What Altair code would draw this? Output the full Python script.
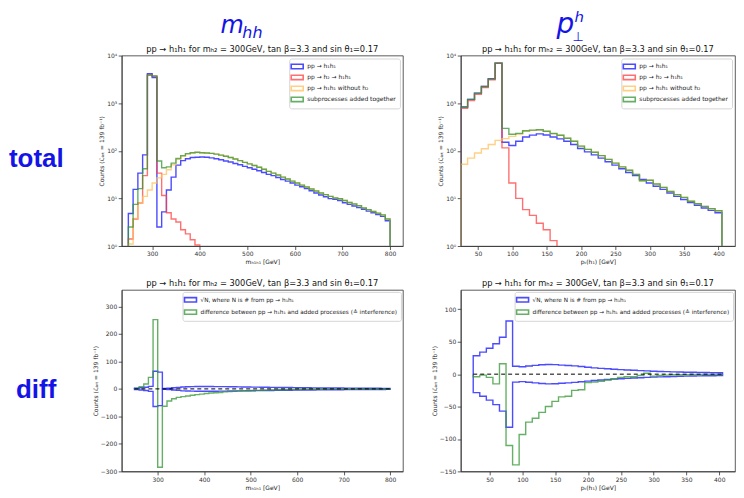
import altair as alt
import pandas as pd

# ---------------- data ----------------
mhh_edges = list(range(250, 810, 10))   # 55 bins, 250..800 GeV
pt_edges = list(range(25, 415, 10))     # 38 bins, 25..405 GeV

# top-left: m_hh, counts (log)
mhh_blue = [4.8, 15.5, 34, 82, 4150, 3450, 2.5, 5.2, 15, 28, 50, 62, 68, 72, 73,
            74, 73, 71, 68, 65, 61, 58, 54, 51, 47, 44, 41, 38, 35, 32, 30, 27.5, 25, 23, 21,
            19, 17.5, 16, 14.5, 13, 11.8, 10.8, 9.9, 9.6, 9, 8.1, 7.5, 6.9, 6.4, 5.9, 5.4, 5.0, 4.6, 4.2, 3.4]
mhh_red = [1.4, 3.7, 8, 30, 3870, 3700, 34, 11.5, 5.0, 3.7, 3.2, 2.2, 1.8, 1.35, 1.05,
           0, 0, 0, 0, 0, 0, 0, 0, 0, 0, 0, 0, 0, 0, 0, 0, 0, 0, 0, 0,
           0, 0, 0, 0, 0, 0, 0, 0, 0, 0, 0, 0, 0, 0, 0, 0, 0, 0, 0, 0]
mhh_orange = [1.1, 3.8, 8, 11, 15, 21, 27, 32, 40, 51, 66, 77, 85, 90, 92,
              91, 90, 88, 85, 81, 77, 72, 67, 62, 57, 53, 49, 45, 41, 37, 34, 31, 28, 25.5, 23,
              21, 19, 17.3, 15.8, 14.3, 13, 12, 11, 10.2, 9.8, 9, 8.2, 7.6, 7.0, 6.3, 5.8, 5.3, 4.9, 4.5, 3.7]
mhh_green = [2.5, 7.5, 16, 42, 3900, 3720, 61, 44, 46, 55, 69, 79, 87, 91, 93,
             91, 90, 88, 85, 81, 77, 72, 67, 62, 57, 53, 49, 45, 41, 37, 34, 31, 28, 25.5, 23,
             21, 19, 17.3, 15.8, 14.3, 13, 12, 11, 10.2, 9.8, 9, 8.2, 7.6, 7.0, 6.3, 5.8, 5.3, 4.9, 4.5, 3.7]

# top-right: pT(h1), counts (log)
pt_blue = [830, 1200, 1620, 2230, 3250, 6900, 151, 129, 158, 195, 213, 226, 215, 195, 178, 158, 135,
           112, 95, 82, 70, 59, 50, 42, 35, 30, 25, 21, 18, 15.5, 13, 11, 9.5, 8.2, 7.2, 6.3, 5.6, 5.0]
pt_red = [780, 1130, 1535, 2135, 3100, 6840, 115, 21, 10, 5.8, 4.4, 3.0, 2.2, 1.3, 0, 0, 0,
          0, 0, 0, 0, 0, 0, 0, 0, 0, 0, 0, 0, 0, 0, 0, 0, 0, 0, 0, 0, 0]
pt_orange = [52, 70, 90, 110, 135, 165, 180, 201, 222, 257, 268, 273, 255, 229, 212, 183, 159,
             125, 107, 93, 79, 66, 55, 46, 39, 32, 23.5, 24, 20, 17, 14, 12, 10.5, 8.7, 7.7, 6.8, 6.1, 5.5]
pt_green = [832, 1200, 1625, 2245, 3235, 7005, 295, 222, 232, 263, 272, 276, 257, 230, 212, 183, 159,
            125, 107, 93, 79, 66, 55, 46, 39, 32, 23.5, 24, 20, 17, 14, 12, 10.5, 8.7, 7.7, 6.8, 6.1, 5.5]

# bottom-left: m_hh differences
mhh_sqrtN = [2.2, 3.9, 5.8, 9.1, 64, 61, 1.6, 2.3, 3.9, 5.3, 7.1, 7.9, 8.2, 8.5, 8.5,
             8.6, 8.5, 8.4, 8.2, 8.1, 7.8, 7.6, 7.3, 7.1, 6.9, 6.6, 6.4, 6.2, 5.9, 5.7, 5.5, 5.2, 5.0, 4.8, 4.6,
             4.4, 4.2, 4.0, 3.8, 3.6, 3.4, 3.3, 3.1, 3.1, 3.0, 2.8, 2.7, 2.6, 2.5, 2.4, 2.3, 2.2, 2.1, 2.0, 1.8]
mhh_diff = [2, 8, 18, 42, 252, -285, -63, -44, -36, -31, -28, -26, -23, -21, -19,
            -17, -15, -14, -13, -11, -10, -9, -8, -7, -6.5, -6, -5.5, -5, -4.5, -4, -3.5, -3, -3, -2.5, -2,
            -2, -1.8, -1.6, -1.4, -1.2, -1.1, -1, -0.9, -0.8, -0.7, -0.6, -0.6, -0.5, -0.5, -0.4, -0.4, -0.3, -0.3, -0.3, -0.2]

# bottom-right: pT differences
pt_sqrtN = [28.5, 34, 40, 47, 57, 82, 12.3, 11.5, 12.5, 13.5, 14.5, 15, 14.7, 14, 13.4, 12.7,
            11.8, 10.7, 9.7, 9, 8.3, 7.6, 7, 6.5, 6, 5.5, 5, 4.5, 4.2, 3.9, 3.6, 3.3, 3.0, 2.9, 2.7, 2.5, 2.4, 2.2]
pt_diff = [-4, -1.5, -5, -15, 16, -110, -140, -93, -74, -68, -59, -50, -42, -35, -34, -25,
           -24, -13, -12, -11, -9, -7, -5, -4, -4, -2, 1.5, -3, -2, -1.5, -1, -1, -1, -0.5, -0.5, -0.5, -0.5, -0.5]

total_labels = ["pp → h₁h₁", "pp → h₂ → h₁h₁", "pp → h₁h₁ without h₂", "subprocesses added together"]
diff_labels = ["√N, where N is # from pp → h₁h₁",
               "difference between pp → h₁h₁ and added processes (≙ interference)"]
total_colors = ["#0f0fff", "#ff4040", "#ffc05c", "#339533"]
diff_colors = ["#0f0fff", "#339533"]

title_text = "pp → h₁h₁ for mₕ₂ = 300GeV, tan β=3.3 and sin θ₁=0.17"
ytitle = "Counts (ℒᵢₙₜ = 139 fb⁻¹)"

FONT = "DejaVu Sans"
LOG_FLOOR = 1e-3
HEAD = "#1414e6"
ALPHA = 0.75


def step_frame(edges, series_list, base):
    rows = []
    for lab, part, vals in series_list:
        assert len(vals) == len(edges) - 1, (lab, len(vals))
        pts = [(edges[0], base)]
        for e, v in zip(edges[:-1], vals):
            pts.append((e, v if v != 0 else base))
        pts.append((edges[-1], vals[-1] if vals[-1] != 0 else base))
        pts.append((edges[-1], base))
        for i, (x, y) in enumerate(pts):
            rows.append({"series": lab, "part": part, "x": x, "y": y, "i": i})
    return pd.DataFrame(rows)


log_labels = ("datum.value >= 10000 ? '10⁴' : datum.value >= 1000 ? '10³' : "
              "datum.value >= 100 ? '10²' : datum.value >= 10 ? '10¹' : '10⁰'")

sym = "M-1.5,-0.55H1.5V0.55H-1.5Z"


def label(text, x, y, size, style="normal", weight="normal", font=FONT, color=HEAD, align="left"):
    return alt.Chart(pd.DataFrame({"t": [text]})).mark_text(
        align=align, baseline="alphabetic", fontSize=size, fontStyle=style,
        fontWeight=weight, font=font, color=color).encode(
        x=alt.value(x), y=alt.value(y), text="t:N")


def ptitle(w):
    return label(title_text, w / 2, -4, 8.3, color="#111", align="center")


def total_panel(edges, blue, red, orange, green, xdom, xticks, xtitle):
    df = step_frame(edges, [(total_labels[0], "a", blue), (total_labels[1], "a", red),
                            (total_labels[2], "a", orange), (total_labels[3], "a", green)],
                    LOG_FLOOR)
    return alt.Chart(df).mark_line(interpolate="step-after", clip=True, strokeWidth=1.4,
                                   opacity=ALPHA).encode(
        x=alt.X("x:Q", scale=alt.Scale(domain=xdom, nice=False, zero=False),
                axis=alt.Axis(values=xticks, title=xtitle)),
        y=alt.Y("y:Q", scale=alt.Scale(type="log", domain=[1, 10000], nice=False),
                axis=alt.Axis(values=[1, 10, 100, 1000, 10000], labelExpr=log_labels, title=ytitle)),
        color=alt.Color("series:N", scale=alt.Scale(domain=total_labels, range=total_colors),
                        legend=alt.Legend(orient="top-right", title=None, symbolType=sym,
                                          symbolSize=64, symbolStrokeWidth=1.6, offset=3,
                                          rowPadding=-1.8, padding=3, labelOffset=5)),
        order=alt.Order("i:Q"),
    )


def diff_panel(edges, sqrtn, diff, xdom, ydom, xticks, yticks, xtitle):
    neg = [-v for v in sqrtn]
    df = step_frame(edges, [(diff_labels[0], "up", sqrtn), (diff_labels[0], "down", neg),
                            (diff_labels[1], "a", diff)], 0)
    xenc = alt.X("x:Q", scale=alt.Scale(domain=xdom, nice=False, zero=False),
                 axis=alt.Axis(values=xticks, title=xtitle))
    yenc = alt.Y("y:Q", scale=alt.Scale(domain=ydom, nice=False, zero=False),
                 axis=alt.Axis(values=yticks, title=ytitle))
    lines = alt.Chart(df).mark_line(interpolate="step-after", clip=True, strokeWidth=1.4,
                                    opacity=ALPHA).encode(
        x=xenc, y=yenc,
        color=alt.Color("series:N", scale=alt.Scale(domain=diff_labels, range=diff_colors),
                        legend=alt.Legend(orient="top-right", title=None, offset=2,
                                          symbolType=sym, symbolSize=64, symbolStrokeWidth=1.6,
                                          rowPadding=0.3, padding=3, labelOffset=5,
                                          labelFontSize=5.8)),
        detail="part:N",
        order=alt.Order("i:Q"),
    )
    zero = alt.Chart(pd.DataFrame({"x": [edges[0], edges[-1]], "y": [0, 0]})).mark_line(
        color="black", strokeDash=[4, 3], strokeWidth=1).encode(x=xenc, y=yenc)
    return alt.layer(lines, zero)


W1, W2, H1, H2 = 282, 275, 191, 182

tl = alt.layer(
    total_panel(mhh_edges, mhh_blue, mhh_red, mhh_orange, mhh_green, [236, 827],
                [300, 400, 500, 600, 700, 800], "mₕ₁ₕ₁ [GeV]"),
    ptitle(W1),
    label("m", 99, -23, 24, style="italic"),
    label("hh", 121, -18, 16, style="italic"),
    label("total", -113, 112, 26, weight="bold", font="Liberation Sans"),
).properties(width=W1, height=H1)

tr = alt.layer(
    total_panel(pt_edges, pt_blue, pt_red, pt_orange, pt_green, [25, 424],
                [50, 100, 150, 200, 250, 300, 350, 400], "pₜ(h₁) [GeV]"),
    ptitle(W2),
    label("p", 96, -23, 28, style="italic"),
    label("h", 114, -34, 15, style="italic"),
    label("⊥", 112, -15, 13),
).properties(width=W2, height=H1)

bl = alt.layer(
    diff_panel(mhh_edges, mhh_sqrtN, mhh_diff, [222.5, 827.5], [-300, 360],
               [300, 400, 500, 600, 700, 800], [-300, -200, -100, 0, 100, 200, 300], "mₕ₁ₕ₁ [GeV]"),
    ptitle(W1),
    label("diff", -106, 108, 26, weight="bold", font="Liberation Sans"),
).properties(width=W1, height=H2)

br = alt.layer(
    diff_panel(pt_edges, pt_sqrtN, pt_diff, [6, 424], [-150, 130],
               [50, 100, 150, 200, 250, 300, 350, 400], [-150, -100, -50, 0, 50, 100], "pₜ(h₁) [GeV]"),
    ptitle(W2),
).properties(width=W2, height=H2)

chart = alt.concat(tl, tr, bl, br, columns=2, spacing=alt.RowColnumber(row=44, column=58),
                   bounds="flush").resolve_scale(color="independent").properties(
    padding=0).configure_axis(
    labelFont=FONT, titleFont=FONT, labelFontSize=6, titleFontSize=6, titleFontWeight="normal",
    tickSize=3.5, tickColor="#333", domainColor="#333", labelColor="#333", titleColor="#222",
    grid=False, labelPadding=1.5, titlePadding=2, tickWidth=0.8, domainWidth=0.8,
    labelOverlap=False,
).configure_view(stroke="#333", strokeWidth=0.8).configure_legend(
    labelFont=FONT, labelFontSize=6, labelColor="#222", fillColor="white", strokeColor="#d5d5d5",
    cornerRadius=2, labelLimit=400,
)

chart.save("out.html", embed_options={"renderer": "svg", "actions": False})
